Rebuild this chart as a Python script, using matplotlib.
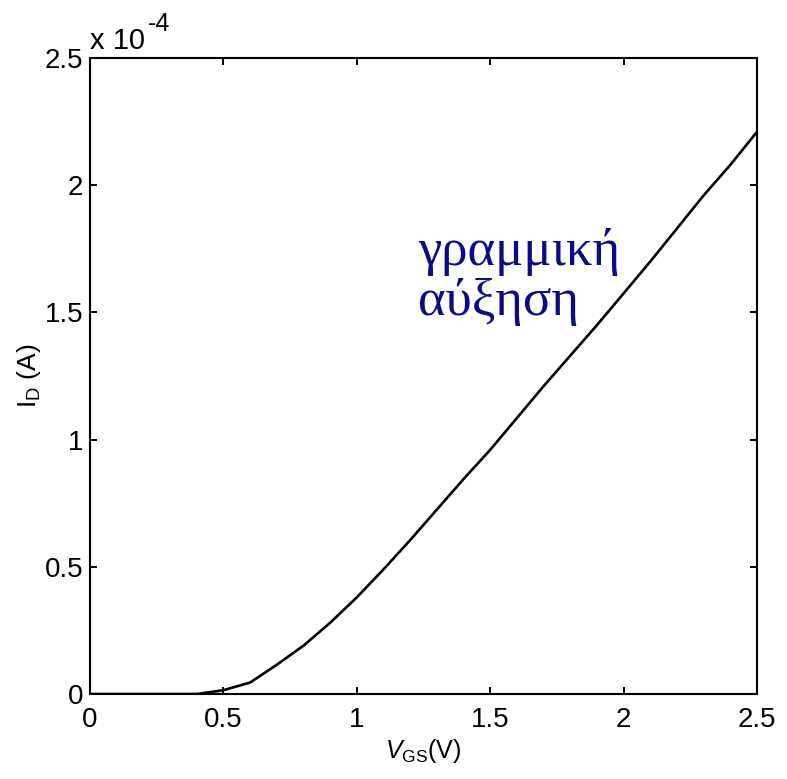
import matplotlib.pyplot as plt
import numpy as np

plt.rc('font', family=['Liberation Sans', 'DejaVu Sans'], size=20)
plt.rcParams['mathtext.fontset'] = 'custom'
plt.rcParams['mathtext.rm'] = 'Liberation Sans'
plt.rcParams['mathtext.it'] = 'Liberation Sans:italic'

# gate voltage (V) and drain current (x 1e-4 A)
vgs = [0.0, 0.1, 0.2, 0.3, 0.4, 0.5, 0.6, 0.7, 0.8, 0.9, 1.0, 1.1, 1.2,
       1.3, 1.4, 1.5, 1.6, 1.7, 1.8, 1.9, 2.0, 2.1, 2.2, 2.3, 2.4, 2.5]
i_d = [0.0, 0.0, 0.0, 0.0, 0.0, 0.015, 0.045, 0.115, 0.19, 0.28, 0.38,
       0.49, 0.605, 0.725, 0.845, 0.96, 1.085, 1.21, 1.33, 1.45, 1.575,
       1.70, 1.83, 1.96, 2.08, 2.21]
ticks = [0, 0.5, 1, 1.5, 2, 2.5]
tick_labels = ['0', '0.5', '1', '1.5', '2', '2.5']

fig = plt.figure(figsize=(7.87, 7.79), dpi=100)
ax = fig.add_axes([0.1144, 0.1091, 0.8475, 0.8164])

ax.plot(vgs, i_d, color='black', lw=1.9)

ax.set_xlim(0, 2.5)
ax.set_ylim(0, 2.5)
ax.set_xticks(ticks, tick_labels)
ax.set_yticks(ticks, tick_labels)
ax.tick_params(direction='in', length=5, width=1.4, top=True, right=True)
ax.tick_params(axis='y', pad=5)
ax.tick_params(axis='x', pad=9)
for s in ax.spines.values():
    s.set_linewidth(1.5)

ax.set_xlabel('$\\mathit{V}_{\\mathrm{GS}}$(V)', fontsize=18, labelpad=3)
ax.set_ylabel('I$_{\\mathrm{D}}$ (A)', fontsize=19, labelpad=1)

# exponent of the y axis
ax.text(0.0, 1.005, 'x 10', transform=ax.transAxes, ha='left', va='bottom',
        fontsize=21)
ax.text(0.086, 1.035, '-4', transform=ax.transAxes, ha='left', va='bottom',
        fontsize=18)

ax.text(1.229, 1.686, 'γραμμική', color='#0b0b8a', fontsize=38,
        family='Liberation Serif', va='baseline')
ax.text(1.229, 1.49, 'αύξηση', color='#0b0b8a', fontsize=38,
        family='Liberation Serif', va='baseline')

fig.savefig('out.png', dpi=100)
